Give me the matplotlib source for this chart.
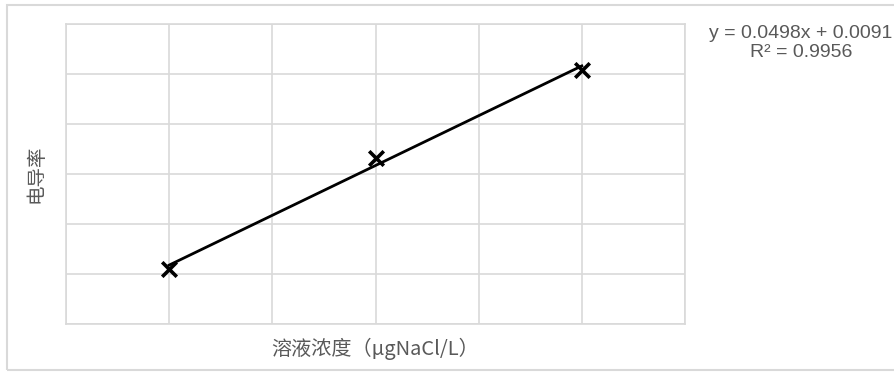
import numpy as np
import matplotlib
matplotlib.use("Agg")
import matplotlib.pyplot as plt
from matplotlib.patches import Rectangle

plt.rcParams['font.family'] = ['Noto Sans CJK SC', 'DejaVu Sans']

# Calibration data: concentration vs conductivity
concentration = [1, 3, 5]
conductivity = [0.05508, 0.16614, 0.25428]

x_ticks = [0, 1, 2, 3, 4, 5, 6]
y_ticks = [0, 0.05, 0.10, 0.15, 0.20, 0.25, 0.30]

GRID = "#d9d9d9"
TEXT = "#595959"

# Linear trendline and R^2
x = np.array(concentration)
y = np.array(conductivity)
slope, intercept = np.polyfit(x, y, 1)
fit = slope * x + intercept
r2 = 1 - np.sum((y - fit) ** 2) / np.sum((y - y.mean()) ** 2)

fig = plt.figure(figsize=(8.94, 3.72), dpi=100)
ax = fig.add_axes([66 / 894, 48 / 372, 619 / 894, 300 / 372])

# chart area border
fig.patches.append(Rectangle((7 / 894, 2 / 372), 1.0, 365 / 372, transform=fig.transFigure,
                             fill=False, edgecolor=GRID, linewidth=1.5))

ax.plot(x, fit, color="black", linewidth=2, zorder=3)
ax.scatter(concentration, conductivity, marker="x", s=110, color="black", linewidths=2.6, zorder=4)

ax.set_xlim(x_ticks[0], x_ticks[-1])
ax.set_ylim(y_ticks[0], y_ticks[-1])
ax.set_xticks(x_ticks)
ax.set_yticks(y_ticks)
ax.grid(True, color=GRID, linewidth=1.2)
ax.set_axisbelow(True)
ax.tick_params(length=0, labelbottom=False, labelleft=False)
for sp in ax.spines.values():
    sp.set_color(GRID)
    sp.set_linewidth(1.2)

ax.set_xlabel("溶液浓度（μgNaCl/L）", fontsize=14.5, color=TEXT, labelpad=10)
ax.set_ylabel("电导率", fontsize=14, color=TEXT, labelpad=14)

fig.text(801 / 894, 1 - 43 / 372, f"y = {slope:.4f}x + {intercept:.4f}\nR² = {r2:.4f}",
         ha="center", va="center", fontsize=14, color=TEXT, linespacing=1.2,
         family=["Liberation Sans", "DejaVu Sans"])

fig.savefig("out.png", dpi=100)
